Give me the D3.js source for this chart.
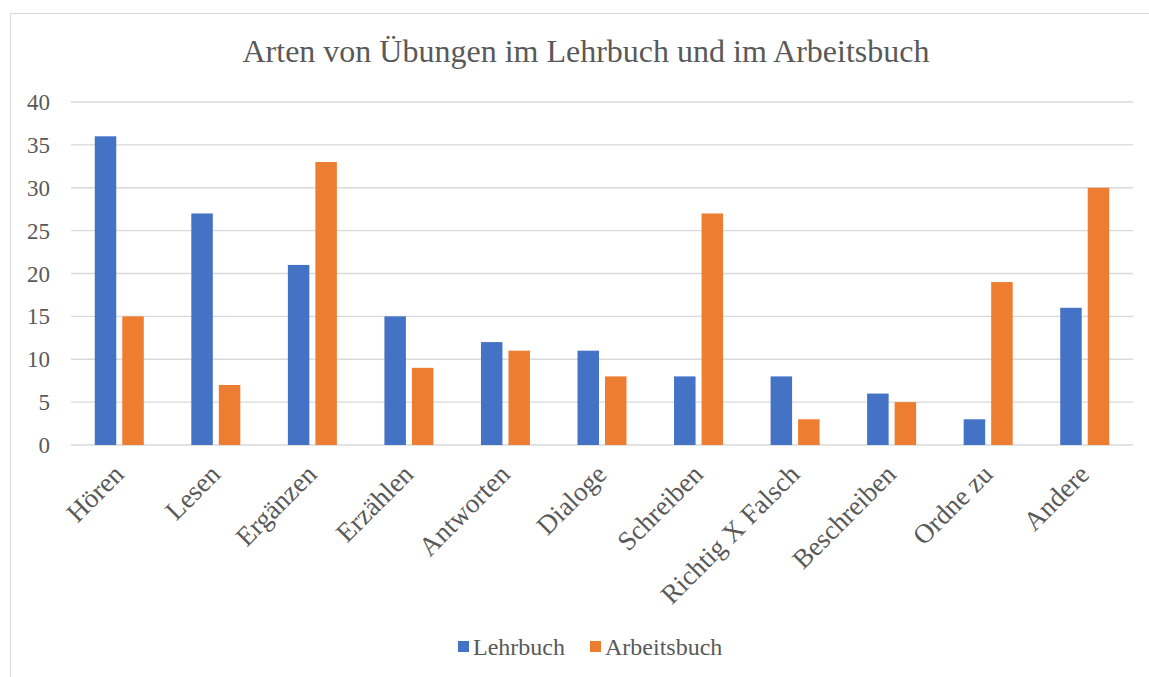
<!DOCTYPE html>
<meta charset="utf-8">
<html>
<body style="margin:0;background:#fff">
<div id="chartContainer"></div>
<script src="https://cdnjs.cloudflare.com/ajax/libs/d3/7.8.5/d3.min.js"></script>
<script type="text/javascript">
  var categories = ["Hören", "Lesen", "Ergänzen", "Erzählen", "Antworten", "Dialoge",
    "Schreiben", "Richtig X Falsch", "Beschreiben", "Ordne zu", "Andere"];
  var seriesNames = ["Lehrbuch", "Arbeitsbuch"];
  var lehrbuch = [36, 27, 21, 15, 12, 11, 8, 8, 6, 3, 16];
  var arbeitsbuch = [15, 7, 33, 9, 11, 8, 27, 3, 5, 19, 30];
  var yTicks = [0, 5, 10, 15, 20, 25, 30, 35, 40];
  var colors = ["#4472c4", "#ed7d31"];

  var width = 1149, height = 677;
  var font = "'Liberation Serif', 'Times New Roman', serif";
  var textColor = "#595959";

  var svg = d3.select("#chartContainer").append("svg")
    .attr("width", width).attr("height", height)
    .style("display", "block");

  // chart frame
  svg.append("rect")
    .attr("x", 10.5).attr("y", 13.5)
    .attr("width", 1150).attr("height", 700)
    .attr("fill", "#fff").attr("stroke", "#d9d9d9");

  var plotLeft = 71, plotRight = 1133, plotTop = 102, plotBottom = 445;

  var x = d3.scaleBand().domain(categories).range([plotLeft, plotRight]).padding(0);
  var y = d3.scaleLinear().domain([0, 40]).range([plotBottom, plotTop]);

  // gridlines
  svg.append("g").selectAll("line")
    .data(yTicks)
    .enter().append("line")
      .attr("x1", plotLeft).attr("x2", plotRight)
      .attr("y1", function (d) { return y(d); })
      .attr("y2", function (d) { return y(d); })
      .attr("stroke", "#d9d9d9").attr("stroke-width", 1.3);

  // y labels
  svg.append("g").selectAll("text")
    .data(yTicks)
    .enter().append("text")
      .attr("x", 50)
      .attr("y", function (d) { return y(d) + 8; })
      .attr("text-anchor", "end")
      .style("font-family", font)
      .style("font-size", "23px")
      .style("fill", textColor)
      .text(function (d) { return d; });

  var barW = 21.5, gap = 6;
  var series = [lehrbuch, arbeitsbuch];

  series.forEach(function (vals, s) {
    svg.append("g").selectAll("rect")
      .data(vals)
      .enter().append("rect")
        .attr("x", function (d, i) {
          var c = x(categories[i]) + x.bandwidth() / 2;
          return s === 0 ? c - gap / 2 - barW : c + gap / 2;
        })
        .attr("y", function (d) { return y(d); })
        .attr("width", barW)
        .attr("height", function (d) { return y(0) - y(d); })
        .attr("fill", colors[s]);
  });

  // category labels, rotated
  svg.append("g").selectAll("text")
    .data(categories)
    .enter().append("text")
      .attr("transform", function (d) {
        return "translate(" + (x(d) + x.bandwidth() / 2 + 6) + "," + 476 + ") rotate(-45)";
      })
      .attr("text-anchor", "end")
      .style("font-family", font)
      .style("font-size", "27px")
      .style("fill", textColor)
      .text(function (d) { return d; });

  // title
  svg.append("text")
    .attr("x", 586).attr("y", 62)
    .attr("text-anchor", "middle")
    .style("font-family", font)
    .style("font-size", "32px")
    .style("fill", textColor)
    .text("Arten von Übungen im Lehrbuch und im Arbeitsbuch");

  // legend
  var legendX = [458, 590];
  var lg = svg.append("g").selectAll("g")
    .data(seriesNames)
    .enter().append("g")
      .attr("transform", function (d, i) { return "translate(" + legendX[i] + ",641)"; });
  lg.append("rect")
    .attr("width", 11).attr("height", 11)
    .attr("fill", function (d, i) { return colors[i]; });
  lg.append("text")
    .attr("x", 15).attr("y", 14)
    .style("font-family", font)
    .style("font-size", "24px")
    .style("fill", textColor)
    .text(function (d) { return d; });
</script>
</body>
</html>
